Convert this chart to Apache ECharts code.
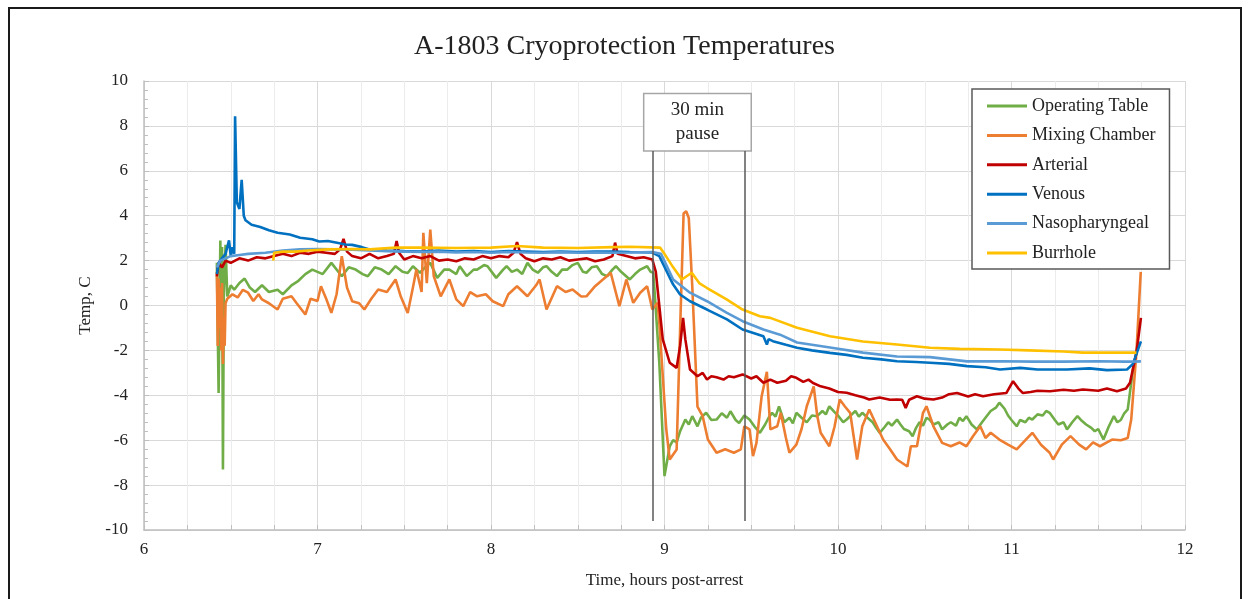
<!DOCTYPE html>
<html>
<head>
<meta charset="utf-8">
<script src="https://cdn.jsdelivr.net/npm/echarts@6/dist/echarts.min.js"></script>
<style>
  html, body { margin: 0; padding: 0; background: #fff; }
  #main { width: 1249px; height: 599px; }
</style>
</head>
<body>
<div id="main"></div>
<script>
var titleText = 'A-1803 Cryoprotection Temperatures';
var seriesNames = ['Operating Table', 'Mixing Chamber', 'Arterial', 'Venous', 'Nasopharyngeal', 'Burrhole'];
var seriesColors = ['#70AD47', '#ED7D31', '#C00000', '#0070C0', '#5B9BD5', '#FFC000'];

// [hours post-arrest, temp C]
var operatingTable = [
  [6.42,1.9],[6.43,-3.9],[6.44,2.9],[6.445,-1.5],[6.45,2.6],[6.455,-7.3],[6.46,0.4],[6.47,2.7],[6.48,0.4],
  [6.5,0.9],[6.52,0.7],[6.55,1.0],[6.58,1.2],[6.61,0.8],[6.64,0.6],[6.68,0.9],[6.72,0.6],[6.77,0.7],[6.8,0.5],
  [6.85,0.9],[6.89,1.1],[6.93,1.4],[6.97,1.6],[7.0,1.5],[7.03,1.4],[7.08,1.9],[7.12,1.5],[7.14,1.3],[7.18,1.7],
  [7.22,1.6],[7.26,1.4],[7.29,1.3],[7.33,1.7],[7.37,1.6],[7.41,1.4],[7.45,1.75],[7.49,1.5],[7.52,1.45],[7.55,1.75],
  [7.59,1.46],[7.62,1.7],[7.65,1.9],[7.69,1.23],[7.73,1.6],[7.76,1.6],[7.8,1.4],[7.82,1.75],[7.86,1.31],[7.9,1.6],
  [7.92,1.6],[7.96,1.8],[7.98,1.75],[8.03,1.23],[8.07,1.6],[8.09,1.75],[8.12,1.5],[8.15,1.6],[8.18,1.4],[8.21,1.9],
  [8.24,1.6],[8.27,1.46],[8.3,1.7],[8.32,1.75],[8.35,1.5],[8.38,1.31],[8.41,1.6],[8.44,1.6],[8.47,1.8],[8.5,1.9],
  [8.53,1.5],[8.55,1.46],[8.58,1.7],[8.61,1.75],[8.64,1.4],[8.67,1.31],[8.7,1.6],[8.72,1.75],[8.75,1.5],[8.8,1.16],
  [8.83,1.4],[8.86,1.6],[8.9,1.75],[8.92,1.5],[8.935,1.46],[8.945,0.4],[8.97,-2.55],[9.0,-7.6],[9.03,-6.27],
  [9.05,-6.0],[9.07,-6.1],[9.09,-5.6],[9.12,-5.08],[9.14,-5.3],[9.16,-4.93],[9.19,-5.38],[9.21,-5.0],[9.24,-4.78],
  [9.27,-5.1],[9.3,-5.08],[9.33,-4.8],[9.36,-5.0],[9.38,-4.71],[9.41,-5.1],[9.43,-5.23],[9.46,-4.9],[9.49,-5.08],
  [9.52,-5.4],[9.55,-5.67],[9.58,-5.3],[9.6,-5.0],[9.62,-4.78],[9.64,-4.95],[9.66,-4.49],[9.69,-5.2],[9.72,-5.0],
  [9.74,-5.25],[9.76,-4.78],[9.79,-5.0],[9.82,-5.2],[9.85,-4.9],[9.88,-4.93],[9.91,-4.7],[9.93,-4.85],[9.95,-4.49],
  [9.98,-4.75],[10.0,-4.9],[10.03,-5.2],[10.05,-5.08],[10.08,-4.85],[10.1,-4.7],[10.12,-4.95],[10.14,-4.78],
  [10.17,-5.0],[10.2,-5.2],[10.22,-5.45],[10.24,-5.67],[10.27,-5.4],[10.29,-5.2],[10.31,-5.35],[10.34,-5.08],
  [10.36,-5.3],[10.38,-5.5],[10.41,-5.6],[10.43,-5.82],[10.45,-5.45],[10.47,-5.2],[10.49,-5.35],[10.51,-5.0],
  [10.53,-5.1],[10.55,-5.3],[10.58,-5.2],[10.6,-5.52],[10.63,-5.3],[10.65,-5.2],[10.68,-5.35],[10.7,-5.0],
  [10.72,-5.15],[10.74,-4.93],[10.77,-5.3],[10.8,-5.52],[10.83,-5.2],[10.85,-5.0],[10.88,-4.7],[10.91,-4.55],
  [10.93,-4.33],[10.96,-4.6],[10.98,-4.9],[11.0,-5.1],[11.03,-5.38],[11.05,-5.1],[11.08,-5.2],[11.1,-5.0],
  [11.12,-5.08],[11.15,-4.85],[11.18,-4.9],[11.2,-4.7],[11.22,-4.78],[11.25,-5.1],[11.27,-5.3],[11.3,-5.2],
  [11.32,-5.52],[11.35,-5.2],[11.38,-4.93],[11.4,-5.1],[11.43,-5.3],[11.46,-5.45],[11.48,-5.6],[11.5,-5.5],
  [11.53,-5.97],[11.56,-5.4],[11.59,-4.93],[11.61,-5.2],[11.63,-5.1],[11.65,-4.8],[11.67,-4.63],[11.7,-2.85],
  [11.73,-1.7]
];

var mixingChamber = [
  [6.42,1.5],[6.425,-1.8],[6.43,1.2],[6.435,-1.0],[6.44,0.8],[6.445,-2.0],[6.45,1.0],[6.455,-2.6],[6.46,-0.5],
  [6.465,-1.8],[6.47,0.1],[6.48,0.3],[6.51,0.5],[6.54,0.36],[6.57,0.7],[6.6,0.57],[6.63,0.2],[6.66,0.5],[6.68,0.27],
  [6.72,0.1],[6.77,-0.18],[6.8,0.3],[6.85,0.41],[6.88,0.1],[6.93,-0.4],[6.96,0.3],[7.0,0.2],[7.02,0.86],[7.05,0.3],
  [7.08,-0.33],[7.11,0.5],[7.14,2.2],[7.17,0.8],[7.2,0.19],[7.24,0.1],[7.27,-0.18],[7.31,0.3],[7.35,0.71],[7.4,0.6],
  [7.45,1.16],[7.48,0.4],[7.52,-0.33],[7.55,0.8],[7.57,1.6],[7.6,0.6],[7.61,3.24],[7.63,1.0],[7.65,3.38],[7.67,1.31],
  [7.71,0.41],[7.76,1.16],[7.8,0.27],[7.84,-0.03],[7.88,0.6],[7.92,0.41],[7.97,0.5],[8.01,0.19],[8.07,-0.03],[8.1,0.5],
  [8.15,0.86],[8.21,0.41],[8.26,0.9],[8.28,1.16],[8.32,-0.18],[8.38,0.86],[8.43,0.6],[8.47,0.71],[8.52,0.4],[8.55,0.41],
  [8.6,0.86],[8.69,1.46],[8.74,-0.03],[8.78,1.16],[8.82,0.12],[8.86,0.57],[8.9,0.86],[8.93,-0.18],[8.96,0.12],
  [8.97,-0.77],[9.01,-5.5],[9.03,-6.86],[9.07,-6.41],[9.09,-1.07],[9.11,4.1],[9.125,4.2],[9.14,3.9],[9.16,0.86],
  [9.19,-4.5],[9.22,-4.93],[9.25,-5.97],[9.3,-6.56],[9.35,-6.4],[9.4,-6.56],[9.44,-6.41],[9.46,-5.38],[9.49,-5.52],
  [9.51,-6.71],[9.53,-6.12],[9.56,-4.04],[9.59,-2.95],[9.61,-5.52],[9.65,-5.38],[9.67,-4.78],[9.7,-5.9],[9.72,-6.56],
  [9.76,-6.2],[9.79,-5.5],[9.82,-4.49],[9.86,-3.6],[9.88,-4.9],[9.9,-5.67],[9.95,-6.27],[9.98,-5.4],[10.01,-4.19],
  [10.04,-4.5],[10.07,-4.78],[10.11,-6.86],[10.14,-5.38],[10.18,-4.63],[10.22,-5.3],[10.26,-5.97],[10.3,-6.4],
  [10.34,-6.86],[10.4,-7.17],[10.42,-6.27],[10.455,-6.27],[10.49,-4.78],[10.51,-4.49],[10.55,-5.38],[10.6,-6.12],
  [10.65,-6.27],[10.7,-6.1],[10.74,-6.27],[10.78,-5.8],[10.82,-5.38],[10.85,-5.9],[10.88,-5.67],[10.93,-5.97],
  [10.98,-6.2],[11.03,-6.41],[11.08,-6.0],[11.12,-5.67],[11.17,-6.2],[11.22,-6.56],[11.24,-6.86],[11.29,-6.2],
  [11.34,-5.82],[11.39,-6.2],[11.43,-6.41],[11.47,-6.1],[11.51,-6.27],[11.55,-6.1],[11.58,-5.97],[11.63,-6.0],
  [11.67,-5.9],[11.69,-5.08],[11.72,-2.1],[11.745,1.5]
];

var arterial = [
  [6.42,1.3],[6.43,1.9],[6.45,1.7],[6.47,2.0],[6.5,1.9],[6.55,2.1],[6.6,2.0],[6.65,2.15],[6.7,2.1],[6.75,2.2],
  [6.8,2.3],[6.85,2.2],[6.9,2.35],[6.95,2.3],[7.0,2.4],[7.05,2.35],[7.1,2.3],[7.13,2.5],[7.15,2.97],[7.17,2.4],
  [7.2,2.2],[7.25,2.1],[7.3,2.3],[7.35,2.1],[7.4,2.2],[7.44,2.3],[7.456,2.87],[7.47,2.35],[7.5,2.05],[7.55,2.2],
  [7.6,2.1],[7.65,2.2],[7.7,2.0],[7.75,2.05],[7.8,1.97],[7.85,2.1],[7.9,2.05],[7.95,2.2],[8.0,2.1],[8.05,2.2],
  [8.1,2.15],[8.13,2.35],[8.15,2.82],[8.17,2.3],[8.2,2.1],[8.25,1.97],[8.3,2.1],[8.35,2.05],[8.4,2.15],[8.45,2.0],
  [8.5,2.05],[8.55,2.1],[8.6,1.97],[8.65,2.05],[8.7,2.2],[8.715,2.8],[8.73,2.3],[8.78,2.2],[8.83,2.1],[8.88,2.15],
  [8.93,2.05],[8.95,1.5],[8.99,-1.51],[9.03,-2.55],[9.07,-2.78],[9.09,-1.8],[9.107,-0.55],[9.12,-1.5],[9.147,-2.85],
  [9.19,-3.15],[9.22,-3.0],[9.245,-3.3],[9.27,-3.15],[9.3,-3.2],[9.34,-3.3],[9.37,-3.15],[9.4,-3.2],[9.45,-3.07],
  [9.5,-3.25],[9.53,-3.15],[9.57,-3.44],[9.61,-3.3],[9.65,-3.44],[9.7,-3.35],[9.73,-3.15],[9.76,-3.22],[9.8,-3.4],
  [9.83,-3.3],[9.856,-3.45],[9.9,-3.6],[9.95,-3.7],[10.0,-3.85],[10.05,-3.89],[10.1,-4.0],[10.15,-4.1],[10.18,-4.19],
  [10.24,-4.1],[10.3,-4.2],[10.34,-4.19],[10.37,-4.2],[10.39,-4.56],[10.41,-4.2],[10.455,-4.04],[10.5,-4.15],
  [10.55,-4.19],[10.6,-4.1],[10.64,-3.95],[10.686,-3.9],[10.75,-4.05],[10.79,-3.95],[10.836,-4.04],[10.9,-3.95],
  [10.97,-3.9],[11.009,-3.37],[11.04,-3.7],[11.066,-3.9],[11.11,-3.85],[11.15,-3.8],[11.222,-3.82],[11.3,-3.75],
  [11.36,-3.8],[11.412,-3.74],[11.5,-3.8],[11.55,-3.7],[11.608,-3.82],[11.66,-3.7],[11.683,-3.44],[11.72,-2.1],
  [11.746,-0.55]
];

var venous = [
  [6.42,1.4],[6.43,1.9],[6.45,2.1],[6.47,2.3],[6.49,2.9],[6.5,2.2],[6.51,2.6],[6.52,2.3],[6.525,8.43],[6.535,4.6],
  [6.55,4.3],[6.563,5.6],[6.575,4.0],[6.585,3.8],[6.62,3.6],[6.67,3.5],[6.72,3.35],[6.77,3.24],[6.84,3.16],[6.9,3.02],
  [6.97,2.95],[7.01,2.85],[7.06,2.87],[7.12,2.78],[7.16,2.72],[7.2,2.7],[7.256,2.6],[7.3,2.5],[7.4,2.45],[7.5,2.42],
  [7.6,2.4],[7.7,2.45],[7.8,2.4],[7.9,2.42],[8.0,2.38],[8.1,2.42],[8.2,2.4],[8.3,2.38],[8.4,2.4],[8.5,2.38],[8.6,2.4],
  [8.7,2.4],[8.8,2.38],[8.93,2.36],[8.97,2.2],[9.05,0.93],[9.09,0.49],[9.147,0.19],[9.245,-0.18],[9.36,-0.62],
  [9.45,-1.07],[9.57,-1.37],[9.59,-1.74],[9.6,-1.5],[9.625,-1.59],[9.7,-1.75],[9.764,-1.88],[9.85,-2.0],[9.954,-2.11],
  [10.05,-2.2],[10.144,-2.33],[10.25,-2.4],[10.34,-2.48],[10.45,-2.52],[10.53,-2.55],[10.64,-2.6],[10.744,-2.7],
  [10.85,-2.75],[10.934,-2.85],[11.05,-2.78],[11.15,-2.85],[11.32,-2.85],[11.45,-2.8],[11.55,-2.88],[11.666,-2.85],
  [11.7,-2.6],[11.746,-1.6]
];

var nasopharyngeal = [
  [6.42,1.7],[6.44,2.0],[6.47,2.1],[6.5,2.2],[6.55,2.25],[6.6,2.3],[6.7,2.35],[6.8,2.45],[6.9,2.5],[7.0,2.52],
  [7.1,2.5],[7.2,2.48],[7.3,2.45],[7.4,2.42],[7.5,2.4],[7.6,2.38],[7.7,2.4],[7.8,2.36],[7.9,2.38],[8.0,2.35],
  [8.1,2.38],[8.2,2.36],[8.3,2.35],[8.4,2.37],[8.5,2.35],[8.6,2.36],[8.7,2.35],[8.8,2.36],[8.93,2.38],[8.98,2.3],
  [9.05,1.16],[9.147,0.57],[9.245,0.19],[9.36,-0.33],[9.45,-0.7],[9.57,-1.07],[9.666,-1.3],[9.764,-1.65],
  [9.954,-1.87],[10.144,-2.1],[10.34,-2.27],[10.53,-2.3],[10.744,-2.49],[10.95,-2.48],[11.124,-2.5],[11.3,-2.5],
  [11.5,-2.48],[11.65,-2.5],[11.7,-2.5],[11.746,-2.49]
];

var burrhole = [
  [6.745,2.0],[6.75,2.35],[6.8,2.4],[6.87,2.4],[6.95,2.45],[7.06,2.5],[7.2,2.52],[7.3,2.5],[7.45,2.58],[7.6,2.58],
  [7.8,2.56],[8.0,2.58],[8.15,2.65],[8.3,2.58],[8.5,2.56],[8.7,2.6],[8.8,2.62],[8.974,2.58],[9.0,2.3],[9.05,1.7],
  [9.1,1.16],[9.157,1.46],[9.2,1.0],[9.243,0.79],[9.358,0.27],[9.45,-0.18],[9.55,-0.48],[9.61,-0.55],[9.764,-0.99],
  [9.954,-1.37],[10.144,-1.6],[10.34,-1.74],[10.53,-1.88],[10.7,-1.93],[10.934,-1.96],[11.1,-2.0],[11.3,-2.05],
  [11.412,-2.1],[11.6,-2.1],[11.72,-2.1]
];

// pause markers
var pauseStart = 8.934;
var pauseEnd = 9.464;
var pauseLabel = '30 min\npause';

var seriesData = [operatingTable, mixingChamber, arterial, venous, nasopharyngeal, burrhole];
var serif = '"Liberation Serif", "DejaVu Serif", serif';

var chart = echarts.init(document.getElementById('main'), null, { renderer: 'canvas' });

function buildSeries() {
  var list = [];
  for (var i = 0; i < seriesNames.length; i++) {
    list.push({
      name: seriesNames[i],
      type: 'line',
      data: seriesData[i],
      symbol: 'none',
      smooth: false,
      lineStyle: { width: 2.6, color: seriesColors[i] },
      itemStyle: { color: seriesColors[i] },
      emphasis: { disabled: true }
    });
  }
  // the pause box and its two vertical lines
  list[0].markArea = {
    silent: true,
    itemStyle: { color: '#fff', borderColor: '#a6a6a6', borderWidth: 1.5 },
    label: {
      show: true, position: 'inside', formatter: pauseLabel,
      fontFamily: serif, fontSize: 19, lineHeight: 24, color: '#222'
    },
    data: [[{ coord: [8.88, 9.44] }, { coord: [9.50, 6.88] }]]
  };
  list[0].markLine = {
    silent: true,
    symbol: ['none', 'none'],
    label: { show: false },
    lineStyle: { color: '#595959', width: 1.5, type: 'solid' },
    data: [
      [{ coord: [pauseStart, -9.6] }, { coord: [pauseStart, 6.88] }],
      [{ coord: [pauseEnd, -9.6] }, { coord: [pauseEnd, 6.88] }]
    ]
  };
  return list;
}

var option = {
  animation: false,
  backgroundColor: '#fff',
  color: seriesColors,
  title: {
    text: titleText,
    left: 'center',
    top: 28,
    textStyle: { fontFamily: serif, fontSize: 28, fontWeight: 'normal', color: '#222' }
  },
  legend: {
    orient: 'vertical',
    left: 972,
    top: 89,
    icon: 'rect',
    itemWidth: 40,
    itemHeight: 3,
    itemGap: 9.4,
    padding: [7, 14, 6, 15],
    borderColor: '#595959',
    borderWidth: 1.5,
    backgroundColor: '#fff',
    textStyle: { fontFamily: serif, fontSize: 18, lineHeight: 20, color: '#222' },
    data: seriesNames
  },
  grid: { left: 144, right: 64, top: 81, bottom: 69 },
  xAxis: {
    type: 'value',
    min: 6,
    max: 12,
    interval: 1,
    name: 'Time, hours post-arrest',
    nameLocation: 'middle',
    nameGap: 42,
    nameTextStyle: { fontFamily: serif, fontSize: 17, color: '#222' },
    axisLine: { onZero: false, lineStyle: { color: '#bfbfbf', width: 1.5 } },
    axisTick: { show: true, inside: true, length: 5, lineStyle: { color: '#bfbfbf' } },
    minorTick: { show: true, splitNumber: 4, length: 5, lineStyle: { color: '#bfbfbf' } },
    splitLine: { lineStyle: { color: '#d9d9d9', width: 1 } },
    minorSplitLine: { show: true, lineStyle: { color: '#ececec', width: 1 } },
    axisLabel: { fontFamily: serif, fontSize: 17, color: '#222', margin: 11 }
  },
  yAxis: {
    type: 'value',
    min: -10,
    max: 10,
    interval: 2,
    name: 'Temp, C',
    nameLocation: 'middle',
    nameGap: 46,
    nameTextStyle: { fontFamily: serif, fontSize: 17, color: '#222' },
    axisLine: { show: true, onZero: false, lineStyle: { color: '#bfbfbf', width: 1.5 } },
    axisTick: { show: true, inside: true, length: 5, lineStyle: { color: '#bfbfbf' } },
    minorTick: { show: true, splitNumber: 5, length: 4, lineStyle: { color: '#bfbfbf' } },
    splitLine: { lineStyle: { color: '#d9d9d9', width: 1 } },
    axisLabel: { fontFamily: serif, fontSize: 17, color: '#222', margin: 16 }
  },
  graphic: [{
    type: 'rect',
    silent: true,
    z: 100,
    shape: { x: 9, y: 8, width: 1232, height: 600 },
    style: { fill: 'none', stroke: '#1a1a1a', lineWidth: 2 }
  }],
  series: buildSeries()
};

chart.setOption(option);
</script>
</body>
</html>
